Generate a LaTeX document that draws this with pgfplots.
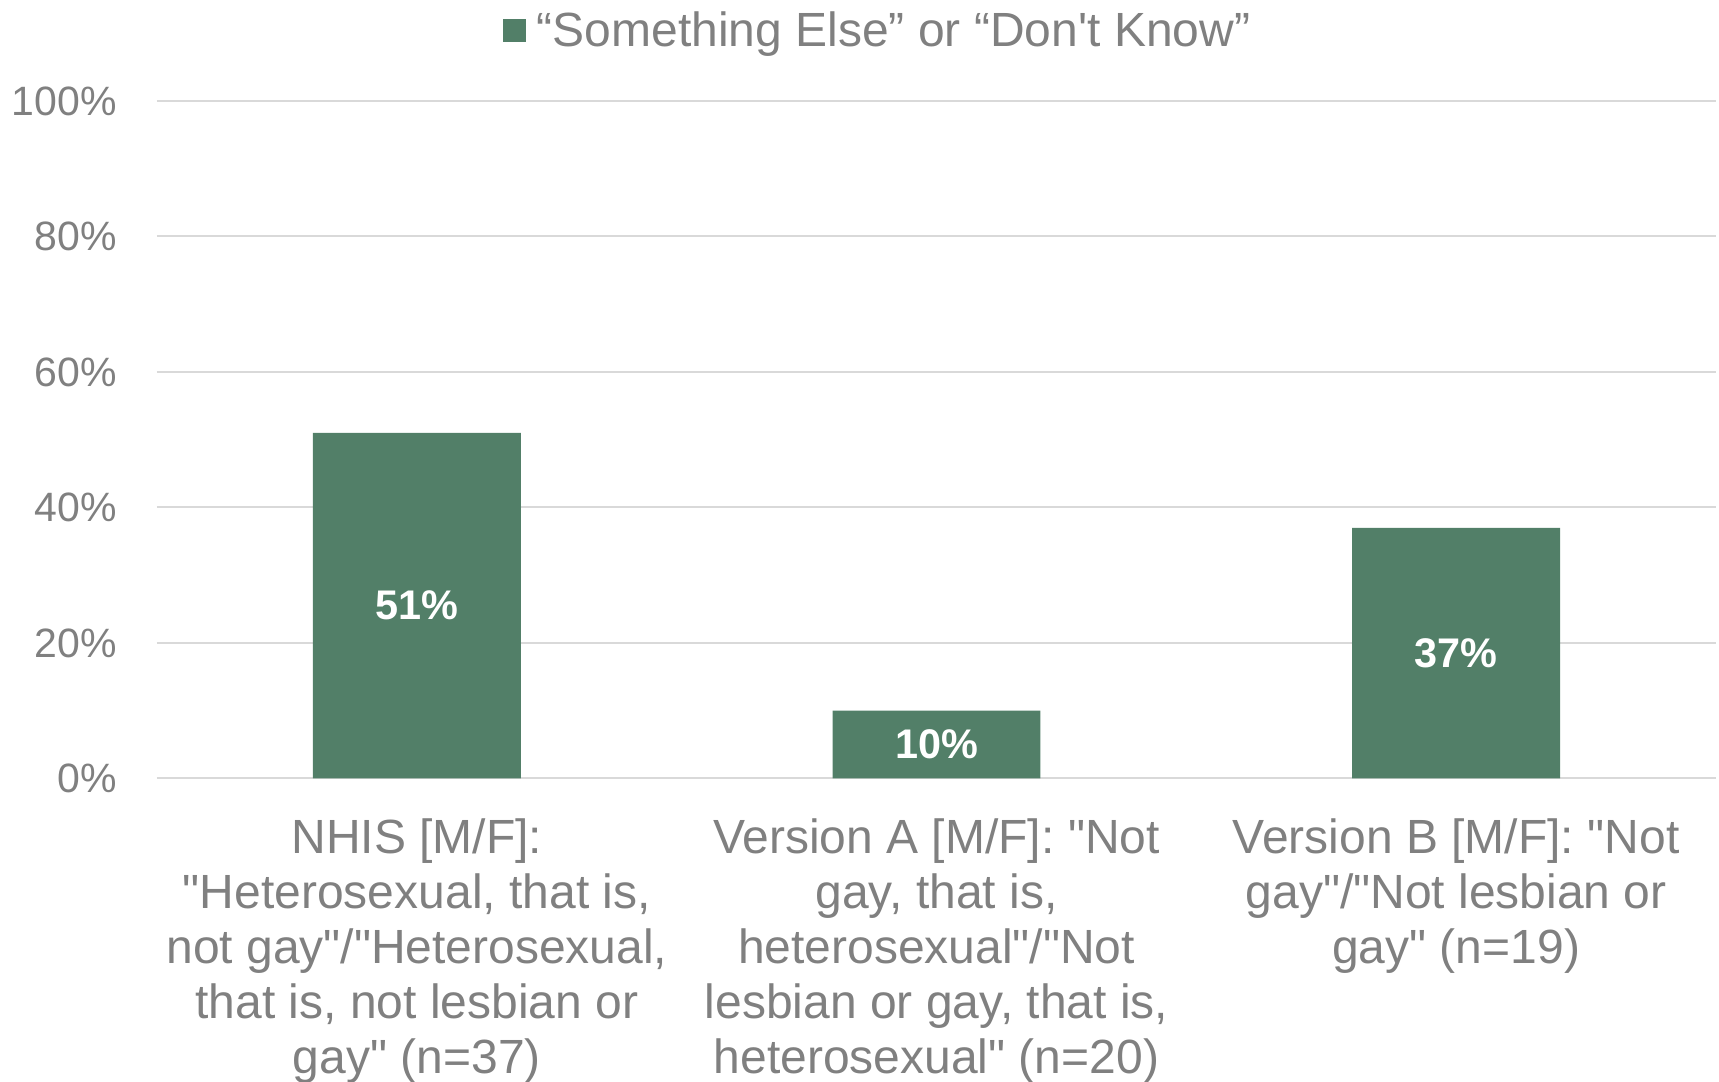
\documentclass[border=0pt]{standalone}
\usepackage{fontspec}
\setmainfont{Liberation Sans}[Ligatures=TeXOff]
\usepackage{pgfplots}
\pgfplotsset{compat=1.18}
\definecolor{barg}{HTML}{527F68}
\definecolor{txtg}{HTML}{808080}
\definecolor{gridg}{HTML}{D9D9D9}
\begin{document}
\begin{tikzpicture}
\begin{axis}[
  at={(0,0)}, anchor=south west,
  scale only axis, width=779.5pt, height=338.7pt,
  xmin=-0.5, xmax=2.5, ymin=0, ymax=100,
  axis line style={draw=none},
  major tick length=0pt,
  ytick={0,20,40,60,80,100},
  yticklabels={0\%,20\%,40\%,60\%,80\%,100\%},
  ymajorgrids, grid style={gridg, line width=1pt},
  xtick={0,1,2},
  xticklabels={
    {NHIS [M/F]:\\"Heterosexual, that is,\\not gay"/"Heterosexual,\\that is, not lesbian or\\gay" (n=37)},
    {Version A [M/F]: "Not\\gay, that is,\\heterosexual"/"Not\\lesbian or gay, that is,\\heterosexual" (n=20)},
    {Version B [M/F]: "Not\\gay"/"Not lesbian or\\gay" (n=19)}},
  yticklabel style={anchor=east, inner sep=0pt, xshift=-20pt, font=\fontsize{20.5}{24}\selectfont, text=txtg},
  xticklabel style={anchor=north, inner sep=0pt, yshift=-20pt, align=center, font=\fontsize{24}{27.5}\selectfont, text=txtg},
  legend style={at={(0.4615,1.1035)}, anchor=center, draw=none, fill=none,
    font=\fontsize{24}{28}\selectfont, text=txtg, inner sep=0pt, nodes={inner sep=0pt}},
]
\addplot[ybar, bar width=0.4, fill=barg, draw=none,
  legend image code/.code={\fill[barg] (0pt,-5.75pt) rectangle (11.5pt,5.75pt); \path (17pt,0pt);}]
  coordinates {(0,51) (1,10) (2,37)};
\addlegendentry{“Something Else” or “Don't Know”}
\addplot[draw=none, forget plot, nodes near coords, point meta=explicit symbolic,
  every node near coord/.append style={anchor=center, text=white, font=\bfseries\fontsize{20.7}{24}\selectfont}]
  coordinates {(0,25.5) [51\%] (1,5) [10\%] (2,18.5) [37\%]};
\end{axis}
\pgfresetboundingbox
\path[use as bounding box] (-78.5pt,-151.5pt) rectangle (781pt,389.2pt);
\end{tikzpicture}
\end{document}
